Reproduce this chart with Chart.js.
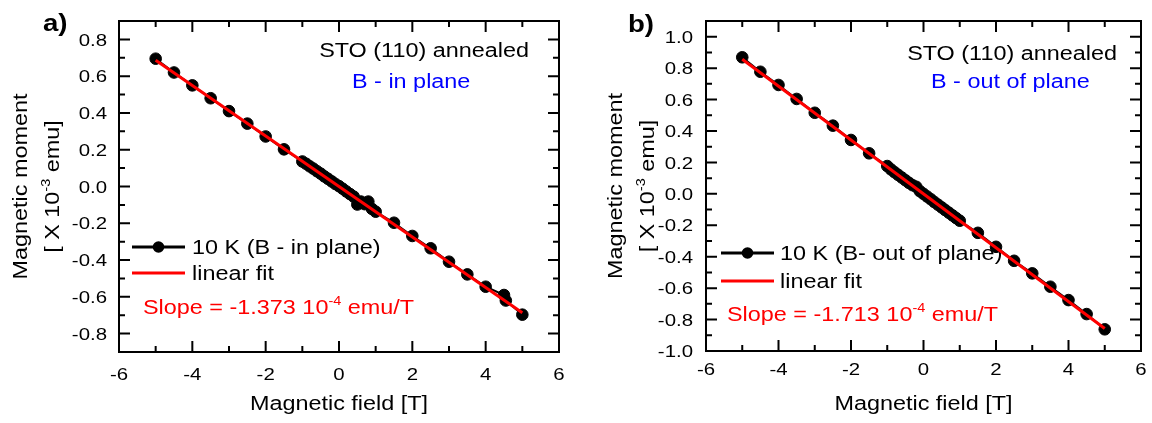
<!DOCTYPE html>
<html>
<head>
<meta charset="utf-8">
<script src="https://cdn.jsdelivr.net/npm/chart.js@4.4.0/dist/chart.umd.min.js"></script>
<style>
  html, body { margin: 0; padding: 0; background: #fff; }
  #wrap { position: relative; width: 1152px; height: 423px; }
  .panel { position: absolute; top: 0; width: 576px; height: 423px; }
</style>
</head>
<body>
<div id="wrap">
  <div class="panel" style="left:0"><canvas id="chartA" width="576" height="423"></canvas></div>
  <div class="panel" style="left:576px"><canvas id="chartB" width="576" height="423"></canvas></div>
</div>
<script>
const FONT = '"Liberation Sans", Arial, Helvetica, sans-serif';
const STRETCH = 1.2;

// panel a) B in plane, 10 K
const fieldA = [-5, -4.5, -4, -3.5, -3, -2.5, -2, -1.5, -1, -0.9, -0.8, -0.7, -0.6, -0.5, -0.4, -0.3, -0.2, -0.1, 0,
  0.1, 0.2, 0.3, 0.4, 0.5, 0.6, 0.7, 0.8, 0.9, 1, 1.5, 2, 2.5, 3, 3.5, 4, 4.5, 4.55, 5];
const momentA = [0.695, 0.620, 0.550, 0.480, 0.410, 0.342, 0.272, 0.202, 0.136, 0.124, 0.110, 0.097, 0.083, 0.070, 0.055,
  0.042, 0.028, 0.014, 0.002, -0.012, -0.027, -0.041, -0.055, -0.098, -0.082, -0.096, -0.082, -0.122, -0.137,
  -0.197, -0.269, -0.336, -0.409, -0.478, -0.545, -0.590, -0.620, -0.697];
const fitFieldA = [-5, 5];
const fitMomentA = [0.687, -0.687];

// panel b) B out of plane, 10 K
const fieldB = [-5, -4.5, -4, -3.5, -3, -2.5, -2, -1.5, -1, -0.9, -0.8, -0.7, -0.6, -0.5, -0.4, -0.3, -0.2, -0.1, 0,
  0.1, 0.2, 0.3, 0.4, 0.5, 0.6, 0.7, 0.8, 0.9, 1, 1.5, 2, 2.5, 3, 3.5, 4, 4.5, 5];
const momentB = [0.869, 0.777, 0.693, 0.604, 0.516, 0.434, 0.343, 0.258, 0.177, 0.156, 0.138, 0.121, 0.104, 0.087, 0.070,
  0.055, 0.045, 0.017, 0.000, -0.017, -0.034, -0.052, -0.069, -0.086, -0.103, -0.120, -0.137, -0.154, -0.171,
  -0.248, -0.337, -0.426, -0.506, -0.591, -0.676, -0.765, -0.862];
const fitFieldB = [-5, 5];
const fitMomentB = [0.857, -0.857];

// axes
const xTicks = [-6, -4, -2, 0, 2, 4, 6];
const yTicksA = [-0.8, -0.6, -0.4, -0.2, 0, 0.2, 0.4, 0.6, 0.8];
const yTicksB = [-1.0, -0.8, -0.6, -0.4, -0.2, 0, 0.2, 0.4, 0.6, 0.8, 1.0];

function toPoints(xs, ys) {
  return xs.map((x, i) => ({ x: x, y: ys[i] }));
}

// text with optional superscript parts, slightly widened like the original figure
function drawText(ctx, parts, x, y, o) {
  const size = o.size || 19.5;
  const weight = o.bold ? 'bold ' : '';
  ctx.save();
  ctx.translate(x, y);
  if (o.angle) ctx.rotate(o.angle);
  ctx.scale(STRETCH, 1);
  ctx.fillStyle = o.color || '#000';
  ctx.textBaseline = 'alphabetic';
  ctx.textAlign = 'left';
  const fontOf = p => weight + (p[1] ? size * 0.62 : size) + 'px ' + FONT;
  const widths = parts.map(p => { ctx.font = fontOf(p); return ctx.measureText(p[0]).width; });
  const total = widths.reduce((a, b) => a + b, 0);
  let cx = o.align === 'right' ? -total : (o.align === 'center' ? -total / 2 : 0);
  const base = size * 0.36;
  parts.forEach((p, i) => {
    ctx.font = fontOf(p);
    ctx.fillText(p[0], cx, p[1] ? base - size * 0.47 : base);
    cx += widths[i];
  });
  ctx.restore();
}

const framePlugin = {
  id: 'frame',
  beforeDatasetsDraw(chart, args, opts) {
    const ctx = chart.ctx;
    const a = chart.chartArea;
    const midY = (a.top + a.bottom) / 2;
    opts.notes.forEach(n => drawText(ctx, n.parts, n.x, n.y, n));
    // axis titles
    drawText(ctx, [['Magnetic field [T]', false]], (a.left + a.right) / 2, opts.xTitleY, { align: 'center' });
    drawText(ctx, [['Magnetic moment', false]], opts.yTitleX[0], midY, { align: 'center', angle: -Math.PI / 2 });
    drawText(ctx, [['[ X 10', false], ['-3', true], [' emu]', false]], opts.yTitleX[1], midY, { align: 'center', angle: -Math.PI / 2 });
    // legend
    const lg = opts.legend;
    const ds = chart.data.datasets;
    ctx.save();
    ctx.lineWidth = 3;
    ctx.strokeStyle = ds[1].borderColor;
    ctx.beginPath(); ctx.moveTo(lg.x0, lg.y[0]); ctx.lineTo(lg.x1, lg.y[0]); ctx.stroke();
    ctx.fillStyle = ds[1].pointBackgroundColor;
    ctx.beginPath(); ctx.arc((lg.x0 + lg.x1) / 2, lg.y[0], ds[1].pointRadius, 0, Math.PI * 2); ctx.fill();
    ctx.strokeStyle = ds[0].borderColor;
    ctx.beginPath(); ctx.moveTo(lg.x0, lg.y[1]); ctx.lineTo(lg.x1, lg.y[1]); ctx.stroke();
    ctx.restore();
    drawText(ctx, [[ds[1].label, false]], lg.tx, lg.y[0], {});
    drawText(ctx, [[ds[0].label, false]], lg.tx, lg.y[1], {});
  },
  afterDraw(chart, args, opts) {
    const ctx = chart.ctx;
    const a = chart.chartArea;
    const x = chart.scales.x, y = chart.scales.y;
    ctx.save();
    ctx.strokeStyle = '#000';
    ctx.lineWidth = 2;
    ctx.strokeRect(a.left, a.top, a.right - a.left, a.bottom - a.top);
    ctx.beginPath();
    const nx = Math.round((x.max - x.min) / opts.xMinor);
    for (let i = 0; i <= nx; i++) {
      const v = x.min + i * opts.xMinor;
      const px = x.getPixelForValue(v);
      const len = x.ticks.some(t => Math.abs(t.value - v) < 1e-6) ? 11 : 6;
      ctx.moveTo(px, a.bottom); ctx.lineTo(px, a.bottom - len);
      ctx.moveTo(px, a.top); ctx.lineTo(px, a.top + len);
    }
    const ny = Math.round((y.max - y.min) / opts.yMinor);
    for (let i = 0; i <= ny; i++) {
      const v = y.min + i * opts.yMinor;
      const py = y.getPixelForValue(v);
      const len = y.ticks.some(t => Math.abs(t.value - v) < 1e-6) ? 11 : 6;
      ctx.moveTo(a.left, py); ctx.lineTo(a.left + len, py);
      ctx.moveTo(a.right, py); ctx.lineTo(a.right - len, py);
    }
    ctx.stroke();
    ctx.restore();
    x.ticks.forEach(t => drawText(ctx, [[String(t.value), false]], x.getPixelForValue(t.value), opts.xLabelY, { size: 17, align: 'center' }));
    y.ticks.forEach(t => drawText(ctx, [[t.value.toFixed(1), false]], opts.yLabelRight, y.getPixelForValue(t.value), { size: 17, align: 'right' }));
  }
};

function makePanel(id, p) {
  new Chart(document.getElementById(id), {
    type: 'scatter',
    data: {
      datasets: [
        {
          label: 'linear fit',
          data: toPoints(p.fitX, p.fitY),
          showLine: true,
          borderColor: '#ff0000',
          borderWidth: 3,
          pointRadius: 0,
          order: 0
        },
        {
          label: p.seriesLabel,
          data: toPoints(p.xs, p.ys),
          showLine: true,
          borderColor: '#000000',
          borderWidth: 2,
          pointRadius: 5.8,
          pointBackgroundColor: '#000000',
          pointBorderColor: '#000000',
          pointBorderWidth: 1,
          order: 1
        }
      ]
    },
    options: {
      responsive: false,
      animation: false,
      devicePixelRatio: 1,
      layout: { padding: { left: 0, top: p.top, right: p.right, bottom: 0 } },
      plugins: {
        legend: { display: false },
        tooltip: { enabled: false },
        frame: p.frame
      },
      scales: {
        x: {
          type: 'linear', min: -6, max: 6,
          afterBuildTicks: s => { s.ticks = xTicks.map(v => ({ value: v })); },
          afterFit: s => { s.height = p.xHeight; },
          ticks: { display: false },
          grid: { display: false, drawTicks: false },
          border: { display: false }
        },
        y: {
          type: 'linear', min: p.yMin, max: p.yMax,
          afterBuildTicks: s => { s.ticks = p.yTicks.map(v => ({ value: v })); },
          afterFit: s => { s.width = p.yWidth; },
          ticks: { display: false },
          grid: { display: false, drawTicks: false },
          border: { display: false }
        }
      }
    },
    plugins: [framePlugin]
  });
}

makePanel('chartA', {
  xs: fieldA, ys: momentA, fitX: fitFieldA, fitY: fitMomentA,
  seriesLabel: '10 K (B - in plane)',
  yMin: -0.9, yMax: 0.9, yTicks: yTicksA,
  top: 21, right: 17, xHeight: 71, yWidth: 119,
  frame: {
    xMinor: 1, yMinor: 0.1,
    xLabelY: 374, yLabelRight: 107,
    xTitleY: 403, yTitleX: [20, 52],
    legend: { x0: 132, x1: 185, tx: 192, y: [247, 273] },
    notes: [
      { parts: [['a)', false]], x: 43, y: 23, size: 23, bold: true },
      { parts: [['STO (110) annealed', false]], x: 529, y: 50, align: 'right' },
      { parts: [['B - in plane', false]], x: 352, y: 81, color: '#0000ff' },
      { parts: [['Slope = -1.373 10', false], ['-4', true], [' emu/T', false]], x: 143, y: 307, color: '#ff0000' }
    ]
  }
});

makePanel('chartB', {
  xs: fieldB, ys: momentB, fitX: fitFieldB, fitY: fitMomentB,
  seriesLabel: '10 K (B- out of plane)',
  yMin: -1.0, yMax: 1.1, yTicks: yTicksB,
  top: 21, right: 11, xHeight: 72, yWidth: 130,
  frame: {
    xMinor: 1, yMinor: 0.1,
    xLabelY: 369, yLabelRight: 117,
    xTitleY: 403, yTitleX: [39, 71],
    legend: { x0: 145, x1: 198, tx: 204, y: [253, 281] },
    notes: [
      { parts: [['b)', false]], x: 52, y: 24, size: 23, bold: true },
      { parts: [['STO (110) annealed', false]], x: 541, y: 53, align: 'right' },
      { parts: [['B - out of plane', false]], x: 355, y: 81, color: '#0000ff' },
      { parts: [['Slope = -1.713 10', false], ['-4', true], [' emu/T', false]], x: 151, y: 314, color: '#ff0000' }
    ]
  }
});
</script>
</body>
</html>
